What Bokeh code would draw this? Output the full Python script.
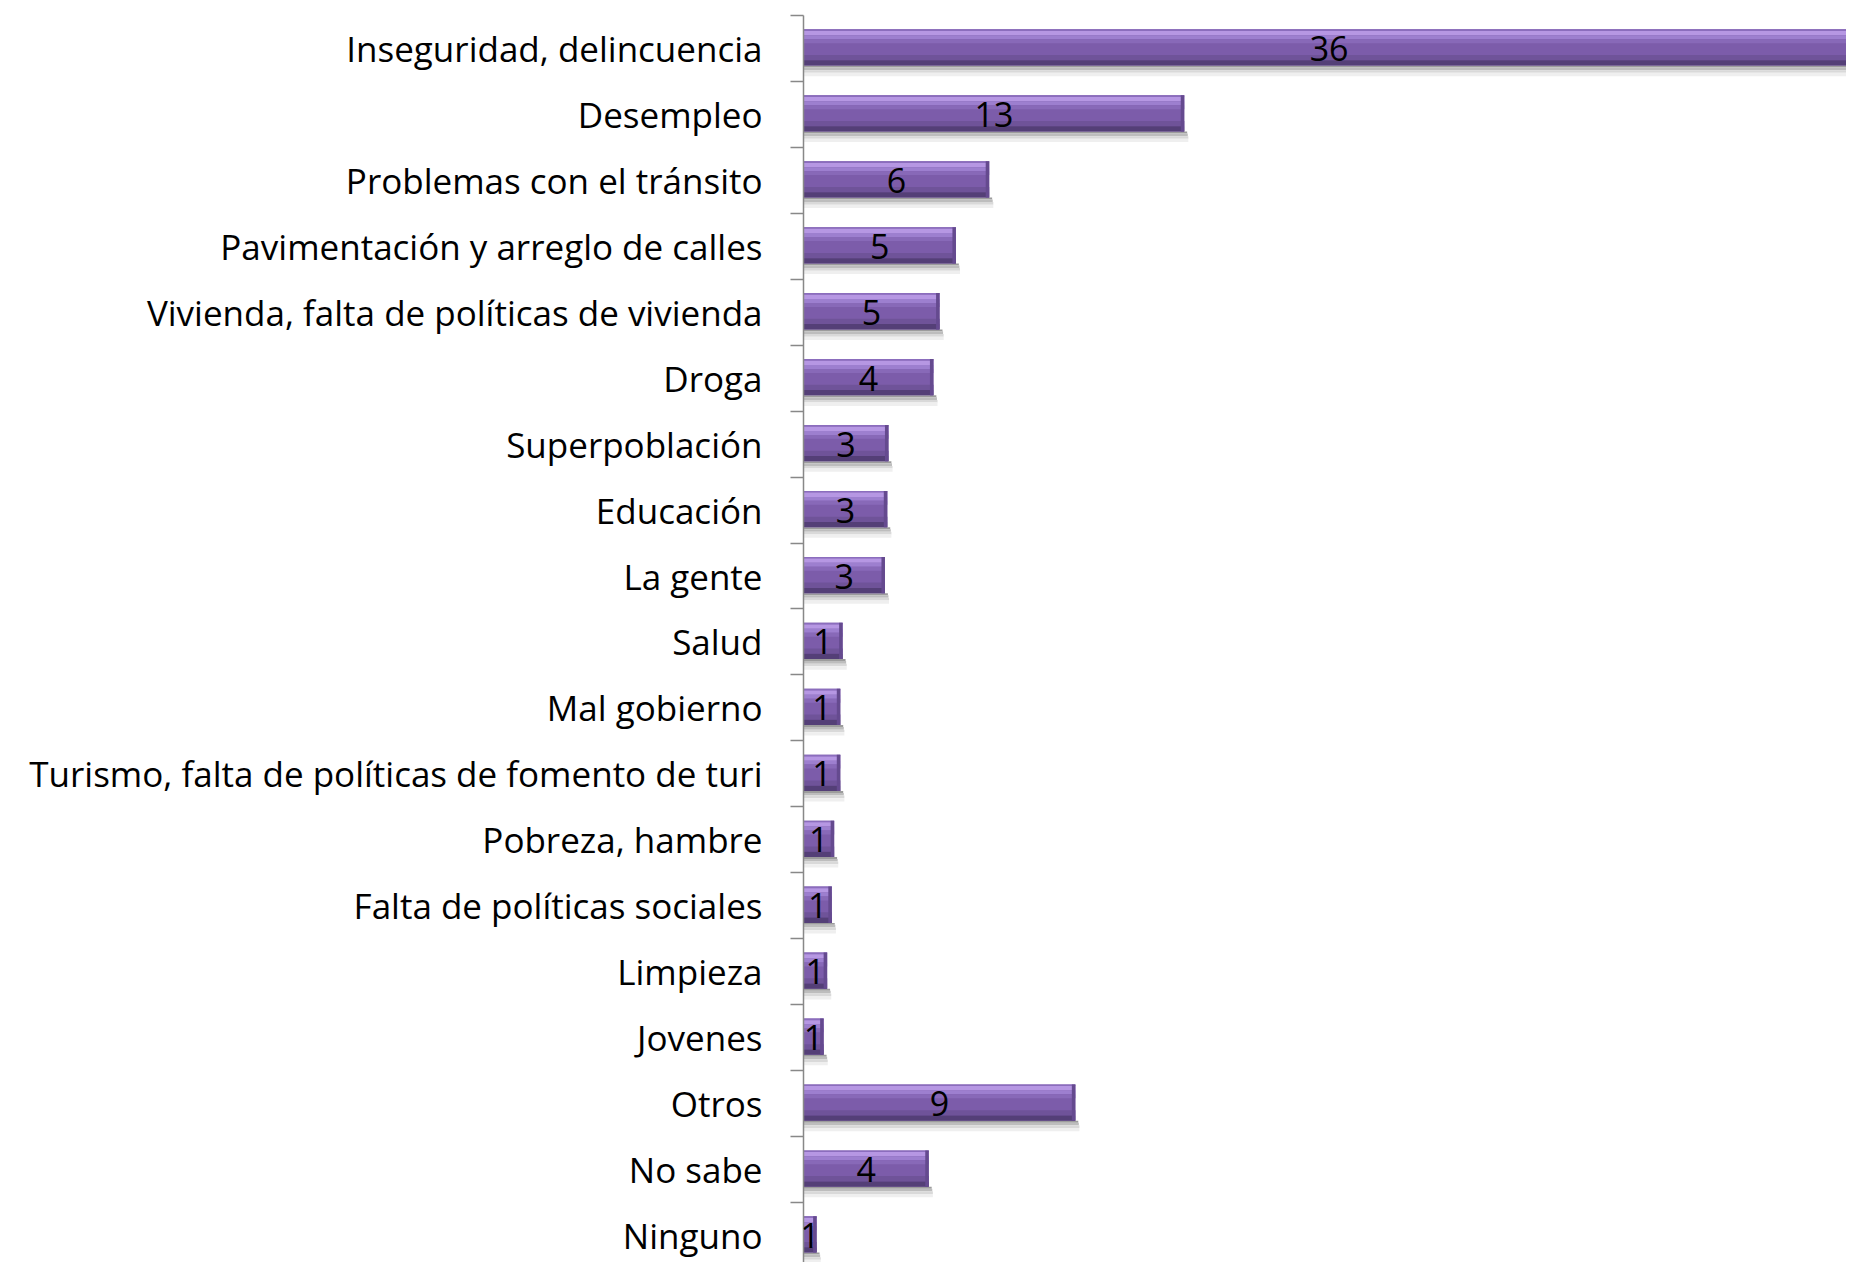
from bokeh.plotting import figure
from bokeh.models import Range1d, FixedTicker, ColumnDataSource, LabelSet
from bokeh.core.properties import value
from bokeh.embed import file_html
from bokeh.resources import INLINE

categories = [
    "Inseguridad, delincuencia",
    "Desempleo",
    "Problemas con el tránsito",
    "Pavimentación y arreglo de calles",
    "Vivienda, falta de políticas de vivienda",
    "Droga",
    "Superpoblación",
    "Educación",
    "La gente",
    "Salud",
    "Mal gobierno",
    "Turismo, falta de políticas de fomento de turi",
    "Pobreza, hambre",
    "Falta de políticas sociales",
    "Limpieza",
    "Jovenes",
    "Otros",
    "No sabe",
    "Ninguno",
]
values = [36.0, 13.04, 6.36, 5.22, 4.66, 4.45, 2.91, 2.87, 2.79, 1.34, 1.26,
          1.26, 1.05, 0.97, 0.81, 0.69, 9.31, 4.29, 0.45]
value_labels = ["36", "13", "6", "5", "5", "4", "3", "3", "3", "1", "1",
                "1", "1", "1", "1", "1", "9", "4", "1"]

n = len(categories)
idx = list(range(n))
centers = [i + 0.5 for i in idx]

FONT = "Open Sans"

p = figure(width=1846, height=1262, output_backend="svg", toolbar_location=None,
           x_range=Range1d(0, 35.72), y_range=Range1d(18.91, 0),
           min_border_left=803, min_border_right=0, min_border_top=15,
           min_border_bottom=0)
p.outline_line_color = None
p.xgrid.visible = False
p.ygrid.visible = False
p.xaxis.visible = False
p.background_fill_color = "white"
p.border_fill_color = "white"


def band(top_off, bot_off, color, right_extra=0.0, left_from_end=None):
    left = [0.0] * n if left_from_end is None else [max(v - left_from_end, 0) for v in values]
    src = ColumnDataSource(dict(
        left=left,
        right=[v + right_extra for v in values],
        top=[i + top_off for i in idx],
        bottom=[i + bot_off for i in idx],
    ))
    p.quad(left="left", right="right", top="top", bottom="bottom", source=src,
           fill_color=color, line_color=None)


# shadow under bars
band(0.76, 0.79, "#9c9c9c", 0.10)
band(0.79, 0.83, "#bdbdbd", 0.12)
band(0.83, 0.87, "#d9d9d9", 0.14)
band(0.87, 0.92, "#efefef", 0.14)
# main bar body
band(0.21, 0.76, "#7c5caa")
band(0.21, 0.235, "#8b6dbd")
band(0.235, 0.30, "#b697e3")
band(0.30, 0.36, "#9d7fcf")
band(0.36, 0.42, "#8869b8")
band(0.60, 0.68, "#6f5399")
band(0.68, 0.76, "#543f77")
# darker right edge
band(0.21, 0.76, "#654a8f", 0.0, 0.12)

lab_src = ColumnDataSource(dict(x=[v / 2 for v in values], y=centers, t=value_labels))
labels = LabelSet(x="x", y="y", text="t", source=lab_src, text_align="center",
                  text_baseline="middle", text_color="black",
                  text_font=value(FONT), text_font_size="34px")
p.add_layout(labels)

ax = p.yaxis[0]
ax.ticker = FixedTicker(ticks=centers, minor_ticks=[float(i) for i in range(n + 1)])
ax.major_label_overrides = {c: lab for c, lab in zip(centers, categories)}
ax.major_tick_out = 0
ax.major_tick_in = 0
ax.minor_tick_out = 13
ax.minor_tick_in = 0
ax.axis_line_color = "#888888"
ax.axis_line_width = 1.5
ax.minor_tick_line_color = "#888888"
ax.minor_tick_line_width = 1.5
ax.major_label_text_font = FONT
ax.major_label_text_font_size = "35px"
ax.major_label_text_color = "black"
ax.major_label_standoff = 28

open("out.html", "w").write(file_html(p, INLINE))
